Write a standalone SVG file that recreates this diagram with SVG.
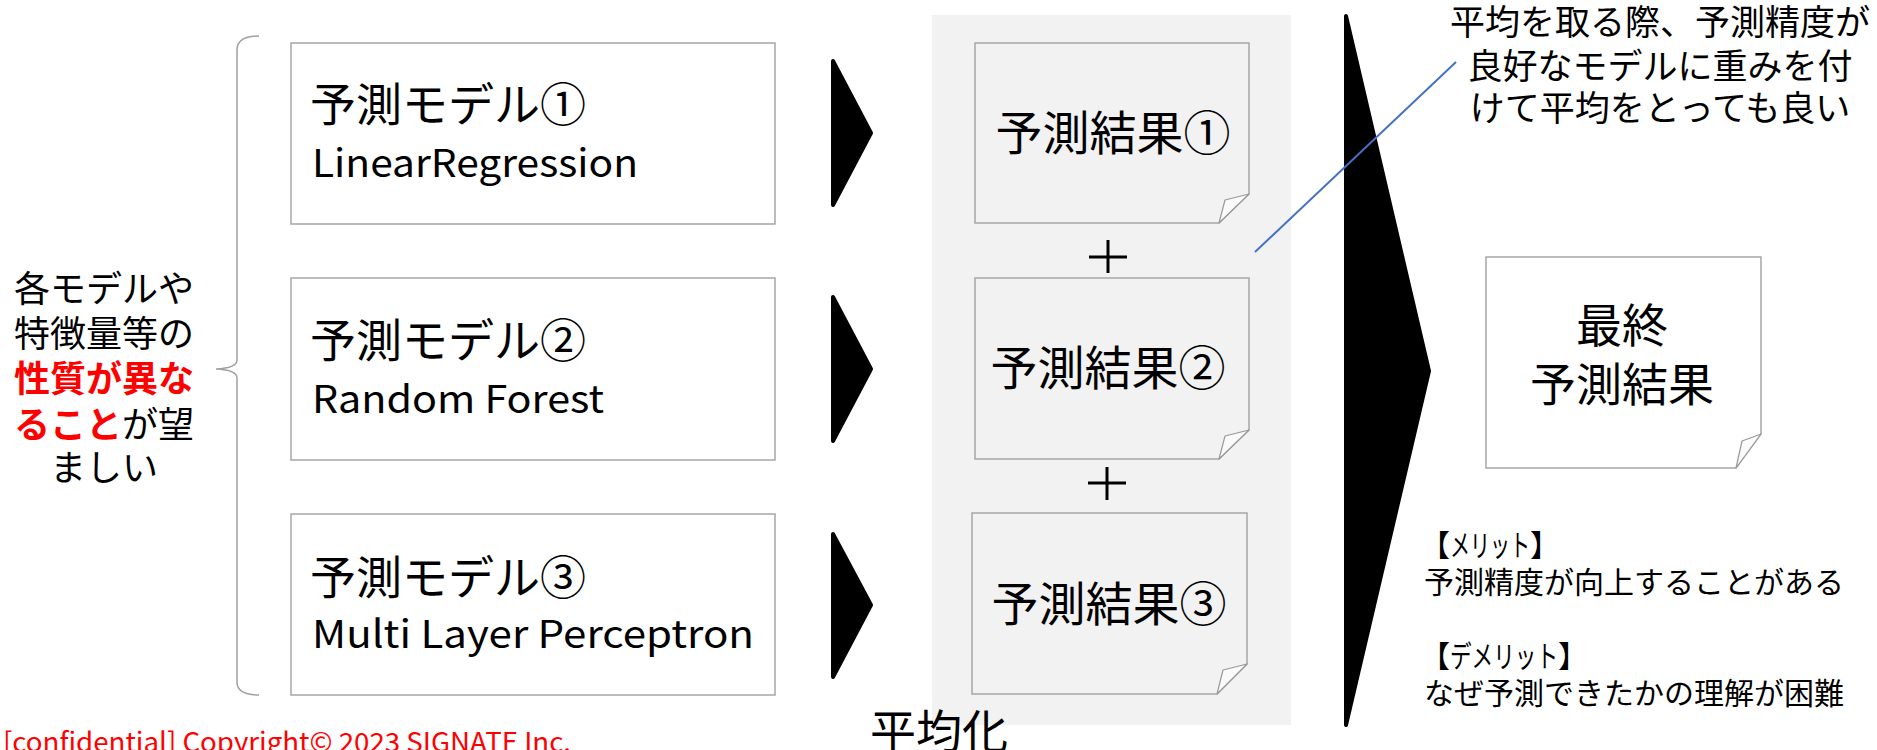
<svg xmlns="http://www.w3.org/2000/svg" width="1877" height="750" viewBox="0 0 1877 750">
<style>
.t{font-family:"Noto Sans CJK JP","Noto Sans",sans-serif;fill:#000}
.box{fill:#fff;stroke:#a6a6a6;stroke-width:1.5}
.res{fill:#f2f2f2;stroke:#a6a6a6;stroke-width:1.5}
.fold{fill:#fafafa;stroke:#999;stroke-width:1.2;stroke-linejoin:round}
.chev{fill:#000;stroke:#000;stroke-width:4;stroke-linejoin:round}
.red{fill:#ff0000;font-weight:bold}
</style>
<rect width="1877" height="750" fill="#fff"/>
<rect x="932" y="15" width="359" height="710" fill="#f2f2f2"/>

<g id="note-left">
<path d="M259,36 Q237,36 237,50 V360 Q237,368 216,369 Q237,370 237,378 V682 Q237,695 259,695" fill="none" stroke="#a0a0a0" stroke-width="1.5"/>
<text class="t" font-size="36" text-anchor="middle" x="104" y="302">各モデルや</text>
<text class="t" font-size="36" text-anchor="middle" x="104" y="347">特徴量等の</text>
<text class="t red" font-size="36" text-anchor="middle" x="104" y="392">性質が異な</text>
<text class="t" font-size="36" text-anchor="middle" x="104" y="438"><tspan class="red">ること</tspan>が望</text>
<text class="t" font-size="36" text-anchor="middle" x="104" y="481">ましい</text>
</g>

<g id="model1">
<rect class="box" x="291" y="43" width="484" height="181"/>
<text class="t" font-size="46" x="310" y="121">予測モデル①</text>
<text class="t" font-size="38" x="312" y="177" textLength="326" lengthAdjust="spacingAndGlyphs">LinearRegression</text>
</g>
<g id="model2">
<rect class="box" x="291" y="278" width="484" height="182"/>
<text class="t" font-size="46" x="310" y="357">予測モデル②</text>
<text class="t" font-size="38" x="312" y="413" textLength="292" lengthAdjust="spacingAndGlyphs">Random Forest</text>
</g>
<g id="model3">
<rect class="box" x="291" y="514" width="484" height="181"/>
<text class="t" font-size="46" x="310" y="594">予測モデル③</text>
<text class="t" font-size="38" x="312" y="648" textLength="442" lengthAdjust="spacingAndGlyphs">Multi Layer Perceptron</text>
</g>

<g id="connectors">
<polygon class="chev" points="833,61 871,133 833,205"/>
<polygon class="chev" points="833,297 871,369 833,441"/>
<polygon class="chev" points="833,534 871,605 833,677"/>
<polygon class="chev" points="1346,16 1429,371 1346,725"/>
<line x1="1456" y1="62" x2="1255" y2="252" stroke="#4472c4" stroke-width="2"/>
<g stroke="#000" stroke-width="3">
<line x1="1108" y1="240" x2="1108" y2="273"/><line x1="1089" y1="257" x2="1127" y2="257"/>
<line x1="1107" y1="467" x2="1107" y2="500"/><line x1="1088" y1="483" x2="1126" y2="483"/>
</g>
</g>

<g id="result1">
<path class="res" d="M975,43 H1249 V194 L1219,223 H975 Z"/>
<path class="fold" d="M1249,194 L1225,200 L1219,223 Z"/>
<text class="t" font-size="47" text-anchor="middle" x="1113" y="150">予測結果①</text>
</g>
<g id="result2">
<path class="res" d="M975,278 H1249 V430 L1219,459 H975 Z"/>
<path class="fold" d="M1249,430 L1225,436 L1219,459 Z"/>
<text class="t" font-size="47" text-anchor="middle" x="1108" y="385">予測結果②</text>
</g>
<g id="result3">
<path class="res" d="M972,513 H1247 V664 L1217,694 H972 Z"/>
<path class="fold" d="M1247,664 L1223,670 L1217,694 Z"/>
<text class="t" font-size="47" text-anchor="middle" x="1109" y="621">予測結果③</text>
</g>

<g id="label-avg">
<text class="t" font-size="46" x="870" y="748">平均化</text>
</g>

<g id="final">
<path class="box" d="M1486,257 H1761 V434 L1736,468 H1486 Z"/>
<path class="fold" d="M1761,434 L1742,441 L1736,468 Z"/>
<text class="t" font-size="46" text-anchor="middle" x="1622" y="342">最終</text>
<text class="t" font-size="46" text-anchor="middle" x="1622" y="401">予測結果</text>
</g>

<g id="note-weight">
<text class="t" font-size="35" text-anchor="middle" x="1660" y="35">平均を取る際、予測精度が</text>
<text class="t" font-size="35" text-anchor="middle" x="1660" y="79">良好なモデルに重みを付</text>
<text class="t" font-size="35" text-anchor="middle" x="1660" y="121">けて平均をとっても良い</text>
</g>

<g id="note-merit">
<text class="t" font-size="30" x="1420" y="556">【<tspan textLength="80" lengthAdjust="spacingAndGlyphs">メリット</tspan>】</text>
<text class="t" font-size="30" x="1424" y="593">予測精度が向上することがある</text>
<text class="t" font-size="30" x="1420" y="667">【<tspan textLength="108" lengthAdjust="spacingAndGlyphs">デメリット</tspan>】</text>
<text class="t" font-size="30" x="1424" y="704">なぜ予測できたかの理解が困難</text>
</g>

<text class="t" font-size="27" x="3" y="752" fill="#ff0000" style="fill:#ff0000" textLength="568" lengthAdjust="spacingAndGlyphs">[confidential] Copyright© 2023 SIGNATE Inc.</text>
</svg>
